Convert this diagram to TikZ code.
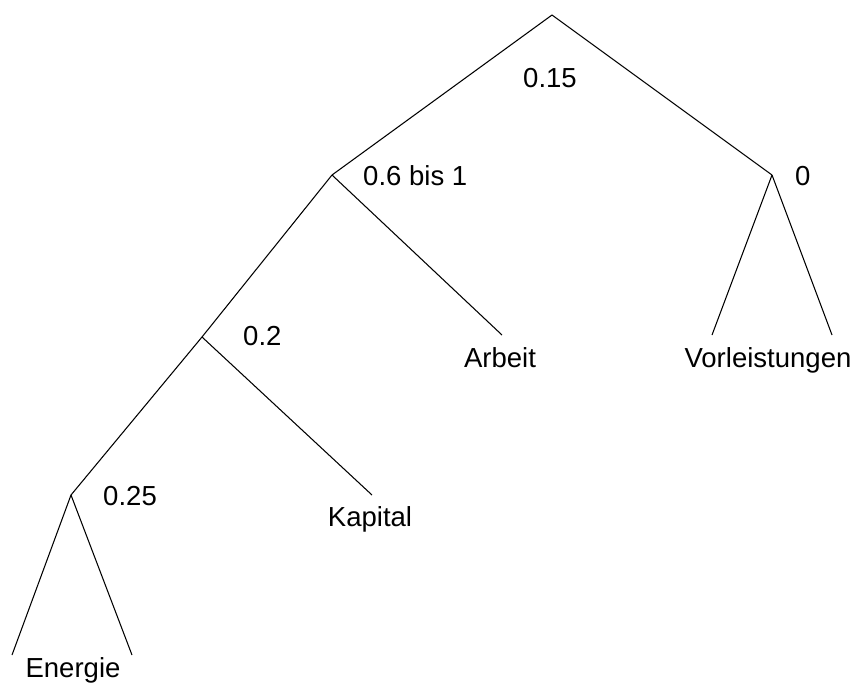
\documentclass[tikz,border=0pt]{standalone}
\usepackage{fontspec}
\setmainfont{Liberation Sans}
\usepackage{tikz}
\usetikzlibrary{calc}

\begin{document}
\begin{tikzpicture}[x=0.03cm, y=-0.03cm,
  branch/.style={line width=0.9pt},
  share/.style={inner sep=0, anchor=base west, font=\fontsize{23.5}{27}\selectfont},
  leaf/.style={inner sep=0, anchor=base, font=\fontsize{23.5}{27}\selectfont}]

\useasboundingbox (0,0) rectangle (860,691);

% junctions
\coordinate (top) at (552,15);
\coordinate (kle) at (332,175);
\coordinate (vor) at (772,175);
\coordinate (ke) at (202,337);
\coordinate (en) at (71,495);

% ends of the branches
\coordinate (arbeitend) at (502,335);
\coordinate (kapitalend) at (372,495);
\coordinate (vorleft) at (712,335);
\coordinate (vorright) at (832,335);
\coordinate (enleft) at (12,655);
\coordinate (enright) at (132,655);

\foreach \a/\b in {top/kle, top/vor, kle/ke, kle/arbeitend, ke/en, ke/kapitalend,
                   vor/vorleft, vor/vorright, en/enleft, en/enright}
{
\draw [branch] (\a) -- (\b);
}

% elasticities
\node [share, anchor=base] (s0) at (550,87) {0.15};
\node [share] (s1) at (363,185) {0.6 bis 1};
\node [share] (s2) at (795,185) {0};
\node [share] (s3) at (243,345) {0.2};
\node [share] (s4) at (103,505) {0.25};

% inputs
\node [leaf] (arbeit) at (500,367) {Arbeit};
\node [leaf] (vorleistungen) at (768,367) {Vorleistungen};
\node [leaf] (kapital) at (370,526) {Kapital};
\node [leaf] (energie) at (73,677) {Energie};

\end{tikzpicture}
\end{document}
